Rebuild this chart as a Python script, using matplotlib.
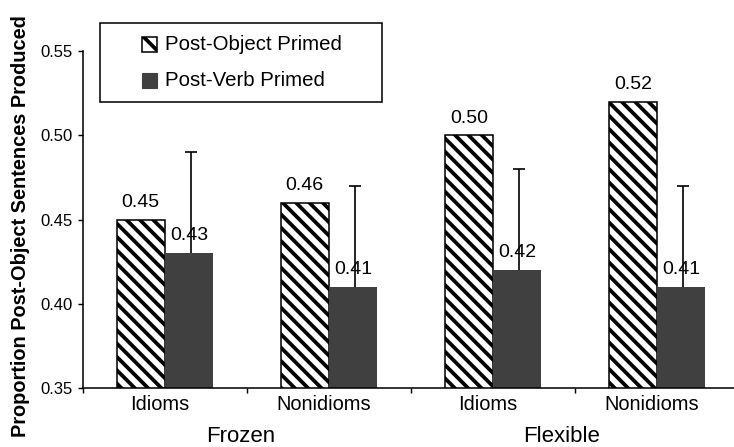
import numpy as np
import matplotlib
matplotlib.use('Agg')
import matplotlib.pyplot as plt
from matplotlib.patches import Rectangle
import matplotlib.transforms as mtransforms

plt.rcParams['font.family'] = 'Liberation Sans'
plt.rcParams['hatch.linewidth'] = 3.4

# data
categories = ['Idioms', 'Nonidioms', 'Idioms', 'Nonidioms']
groups = ['Frozen', 'Flexible']
group_pos = [0.46, 2.42]
post_object = [0.45, 0.46, 0.50, 0.52]
post_verb = [0.43, 0.41, 0.42, 0.41]
post_verb_err = [0.06, 0.06, 0.06, 0.06]
yticks = [0.35, 0.40, 0.45, 0.50, 0.55]
series_names = ['Post-Object Primed', 'Post-Verb Primed']

dark = '#404040'

W, H, DPI = 734, 447, 80
fig = plt.figure(figsize=(W / DPI, H / DPI), dpi=DPI)
ax = fig.add_axes([83 / W, 1 - 388 / H, (W - 83) / W, (388 - 51) / H])

x = np.arange(len(categories))
bw = 0.295
ax.bar(x - bw / 2, post_object, bw, facecolor='white', edgecolor='black',
       hatch='\\\\', linewidth=1.4, zorder=2)
ax.bar(x + bw / 2, post_verb, bw, color=dark, zorder=2)
eb = ax.errorbar(x + bw / 2 + 0.01, post_verb, yerr=[[0] * len(x), post_verb_err], fmt='none',
                 ecolor='black', elinewidth=1.5, capsize=5.5, capthick=1.5, zorder=1)
eb[1][0].remove()  # upper error only

for xi, v in zip(x, post_object):
    ax.annotate(f'{v:.2f}', (xi - bw / 2, v), xytext=(0, 11), textcoords='offset points',
                ha='center', va='baseline', fontsize=17.5)
for xi, v in zip(x, post_verb):
    ax.annotate(f'{v:.2f}', (xi + bw / 2, v), xytext=(0, 12), textcoords='offset points',
                ha='center', va='baseline', fontsize=17.5)

ax.set_xlim(-0.5, -0.5 + (W - 83) / 164)
ax.set_ylim(0.35, 0.55)
ax.set_yticks(yticks)
ax.set_yticklabels([f'{t:.2f}' for t in yticks])
ax.set_xticks([-0.5, 0.5, 1.5, 2.5])
ax.set_xticklabels([])
ax.set_xticks(x - 0.035, minor=True)
ax.set_xticklabels(categories, minor=True)

ax.tick_params(axis='x', which='major', length=4.5, width=1.3, direction='out')
ax.tick_params(axis='x', which='minor', length=0, pad=6.5, labelsize=18)
ax.tick_params(axis='y', length=4.5, width=1.3, pad=5, labelsize=15)
for s in ['top', 'right']:
    ax.spines[s].set_visible(False)
for s in ['left', 'bottom']:
    ax.spines[s].set_linewidth(1.4)

trans = mtransforms.blended_transform_factory(ax.transData, ax.transAxes)
for g, gx in zip(groups, group_pos):
    ax.text(gx, (388 - 442) / 337, g, transform=trans, ha='center', va='baseline',
            fontsize=20)

fig.text(21 / W, 1 - 226 / H, 'Proportion Post-Object Sentences Produced', rotation=90,
         ha='center', va='center', fontsize=18, fontweight='bold')

# legend box
fig.add_artist(Rectangle((100 / W, 1 - 102 / H), 282 / W, 79 / H, transform=fig.transFigure,
                         fill=False, edgecolor='black', linewidth=1.4))
fig.add_artist(Rectangle((142 / W, 1 - 52 / H), 15 / W, 15 / H, transform=fig.transFigure,
                         facecolor='white', edgecolor='black', hatch='\\', linewidth=1.4))
fig.add_artist(Rectangle((142 / W, 1 - 88 / H), 15 / W, 15 / H, transform=fig.transFigure,
                         facecolor=dark, edgecolor=dark))
fig.text(165 / W, 1 - 44 / H, series_names[0], ha='left', va='center', fontsize=18.3)
fig.text(165 / W, 1 - 80 / H, series_names[1], ha='left', va='center', fontsize=18.3)

fig.savefig('out.png', dpi=DPI)
